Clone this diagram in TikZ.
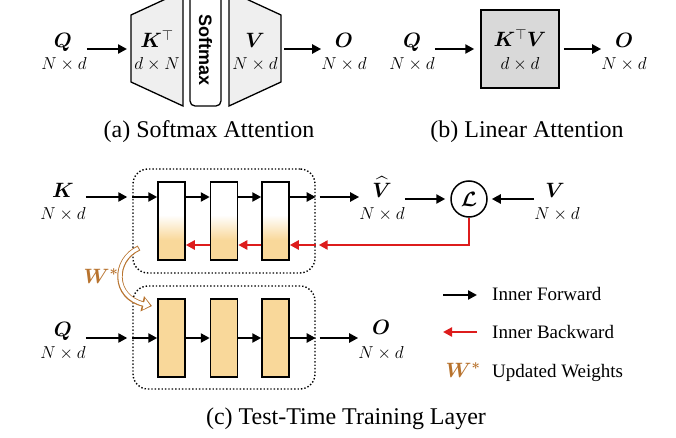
\documentclass[tikz,border=0pt]{standalone}
\usepackage{amsmath,bm}
\usepackage{fontspec}
\setmainfont{Liberation Serif}
\newfontfamily\smxfont{Liberation Sans}
\usetikzlibrary{arrows.meta,positioning,calc}
\definecolor{wcol}{HTML}{B8732E}
\definecolor{redc}{HTML}{DD1C1C}
\definecolor{blkfill}{HTML}{F9D89A}
\definecolor{trapg}{HTML}{EFEFEF}
\definecolor{boxg}{HTML}{D9D9D9}
\tikzset{
  ar/.style={-{Triangle[length=9pt,width=9pt]},line width=2.4pt},
  bw/.style={ar,redc},
  sym/.style={inner sep=0pt,anchor=base,font=\fontsize{21}{25}\selectfont},
  dim/.style={inner sep=0pt,anchor=base,font=\fontsize{16}{19}\selectfont},
  captxt/.style={inner sep=0pt,anchor=base,font=\fontsize{24}{28}\selectfont},
  leg/.style={inner sep=0pt,anchor=base west,font=\fontsize{19}{22}\selectfont},
  trap/.style={draw,line width=1.3pt,fill=trapg,line join=miter},
  dbox/.style={draw,dotted,line width=1.4pt,rounded corners=15pt,minimum width=182pt,minimum height=104pt,inner sep=0pt},
  blk/.style={draw,line width=1.5pt,fill=blkfill,minimum width=27pt,minimum height=78pt,inner sep=0pt},
  % white top, fading into orange
  ublk/.style={blk,fill=white,path picture={
    \foreach \i [evaluate=\i as \pc using int(4*\i)] in {0,...,25}
      \fill[blkfill!\pc!white] ([yshift={-(33+\i)*1pt}]path picture bounding box.north west) rectangle ([yshift={-(34.2+\i)*1pt}]path picture bounding box.north east);
    \fill[blkfill] ([yshift=-58.5pt]path picture bounding box.north west) rectangle (path picture bounding box.south east);}}
}
\begin{document}
\begin{tikzpicture}[x=1pt,y=-1pt]
\useasboundingbox (0,0) rectangle (676,438);
\clip (0,0) rectangle (676,438);
% (a) softmax attention
\draw[trap] (131,15) -- (183,-9) -- (183,106) -- (131,82) -- cycle;
\draw[trap] (229,-9) -- (281,15) -- (281,82) -- (229,106) -- cycle;
\node[draw,line width=1.3pt,fill=white,rounded corners=5pt,minimum width=111pt,minimum height=31pt,inner sep=0pt,rotate=-90] (smx) at (205.5,50.5) {\smxfont\bfseries\fontsize{18}{20}\selectfont Softmax};
\coordinate (kl) at (131,49); \coordinate (vr) at (281,49);
\node[sym] (qa) at (63,48) {$\bm{Q}$};
\node[dim] (qad) at (64,70) {$N\times d$};
\node[sym] (kt) at (157,48) {$\bm{K}^{\top}$};
\node[dim] (ktd) at (157,70) {$d\times N$};
\node[sym] (va) at (255,48) {$\bm{V}$};
\node[dim] (vad) at (255,70) {$N\times d$};
\node[sym] (oa) at (344,48) {$\bm{O}$};
\node[dim] (oad) at (344,70) {$N\times d$};
\draw[ar] (qad.east |- kl) -- ([xshift=-4pt]kl);
\draw[ar] ([xshift=3pt]vr) -- (vr -| oad.west);
\node[captxt] (capa) at (209,138) {(a) Softmax Attention};
% (b) linear attention
\node[draw,line width=1.5pt,fill=boxg,minimum width=78pt,minimum height=78pt,inner sep=0pt] (kv) at (520,49) {};
\node[sym] (qb) at (412,48) {$\bm{Q}$};
\node[dim] (qbd) at (412,70) {$N\times d$};
\node[sym] (kvt) at (520,47) {$\bm{K}^{\top}\bm{V}$};
\node[dim] (kvd) at (520,70) {$d\times d$};
\node[sym] (ob) at (624,48) {$\bm{O}$};
\node[dim] (obd) at (624,70) {$N\times d$};
\draw[ar] (qbd.east |- kv.west) -- ([xshift=-6pt]kv.west);
\draw[ar] ([xshift=4pt]kv.east) -- (kv.east -| obd.west);
\node[captxt] (capb) at (527,138) {(b) Linear Attention};
% (c) test-time training layer
\node[dbox] (ub) at (224,221) {};
\node[dbox,minimum height=103pt] (lb) at (224,337.5) {};
\node[ublk] (u1) at (171.5,221) {};
\node[ublk] (u2) at (224,221) {};
\node[ublk] (u3) at (275.5,221) {};
\node[blk] (l1) at (171.5,338) {};
\node[blk] (l2) at (224,338) {};
\node[blk] (l3) at (275.5,338) {};
\coordinate (fu) at (0,197); \coordinate (bu) at (0,245); \coordinate (fl) at (0,338);
\node[sym] (kc) at (63,197) {$\bm{K}$};
\node[dim] (kcd) at (63,219) {$N\times d$};
\node[sym] (vh) at (382,197) {$\widehat{\bm{V}}$};
\node[dim] (vhd) at (382,219) {$N\times d$};
\node[circle,draw,line width=1.5pt,minimum size=36pt,inner sep=0pt,font=\fontsize{20}{24}\selectfont] (loss) at (469,199) {$\bm{\mathcal{L}}$};
\node[sym] (vc) at (555,197) {$\bm{V}$};
\node[dim] (vcd) at (557,219) {$N\times d$};
\node[sym] (qc) at (63,336) {$\bm{Q}$};
\node[dim] (qcd) at (63,358) {$N\times d$};
\node[sym] (oc) at (381,334) {$\bm{O}$};
\node[dim] (ocd) at (381,358) {$N\times d$};
% forward
\draw[ar] (kcd.east |- fu) -- ($(fu -| ub.west)+(-5,0)$);
\draw[ar] (fu -| ub.west) -- (fu -| u1.west);
\draw[ar] (fu -| u1.east) -- (fu -| u2.west);
\draw[ar] (fu -| u2.east) -- (fu -| u3.west);
\draw[ar] (fu -| u3.east) -- (fu -| ub.east);
\draw[ar] ($(fu -| ub.east)+(4,0)$) -- (fu -| vhd.west);
\draw[ar,shorten >=5pt] (vhd.east |- loss) -- (loss.west);
\draw[ar,shorten >=4pt] (vcd.west |- loss) -- (loss.east);
\draw[ar] (qcd.east |- fl) -- ($(fl -| lb.west)+(-5,0)$);
\draw[ar] (fl -| lb.west) -- (fl -| l1.west);
\draw[ar] (fl -| l1.east) -- (fl -| l2.west);
\draw[ar] (fl -| l2.east) -- (fl -| l3.west);
\draw[ar] (fl -| l3.east) -- (fl -| lb.east);
\draw[ar] ($(fl -| lb.east)+(4,0)$) -- (fl -| ocd.west);
% backward
\draw[bw] (loss.south) |- ($(bu -| ub.east)+(3,0)$);
\draw[bw] (bu -| ub.east) -- (bu -| u3.east);
\draw[bw] (bu -| u3.west) -- (bu -| u2.east);
\draw[bw] (bu -| u2.west) -- (bu -| u1.east);
% updated weights
\node[sym,text=wcol] (ws) at (101,283) {$\bm{W}^{\bm{*}}$};
\coordinate (wa) at (139,248); \coordinate (wb) at (152,306);
\draw[wcol,line width=5.4pt,-{Triangle[length=10pt,width=15pt]}] (wa) .. controls (113,260) and (113,297) .. (wb);
\draw[white,line width=3.4pt,shorten <=1pt,shorten >=1.8pt,-{Triangle[length=6.6pt,width=11pt]}] (wa) .. controls (113,260) and (113,297) .. (wb);
% legend
\node[leg] (lf) at (492,300) {Inner Forward};
\node[leg] (lbk) at (492,338) {Inner Backward};
\node[leg] (lw) at (492,377) {Updated Weights};
\draw[ar] ([xshift=-49pt,yshift=5pt]lf.base west) -- ([xshift=-15pt,yshift=5pt]lf.base west);
\draw[bw] ([xshift=-15pt,yshift=6pt]lbk.base west) -- ([xshift=-49pt,yshift=6pt]lbk.base west);
\node[sym,text=wcol] (lws) at (463,377) {$\bm{W}^{\bm{*}}$};
\node[captxt] (capc) at (346,424) {(c) Test-Time Training Layer};
\end{tikzpicture}
\end{document}
